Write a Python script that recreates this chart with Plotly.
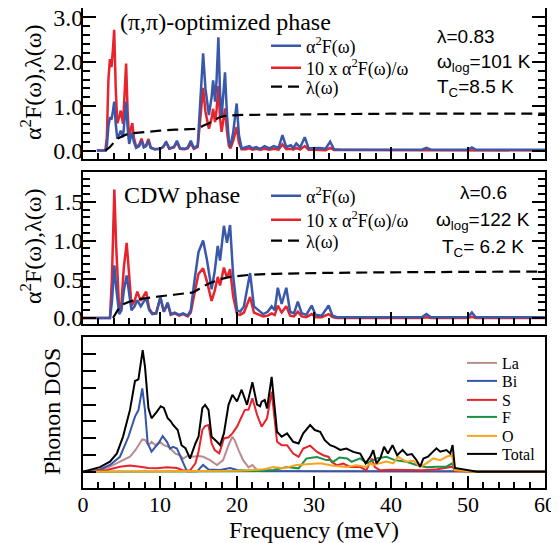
import plotly.graph_objects as go

# ---------------- Panel 1: (pi,pi)-optimized phase ----------------
opt_freq = [1.8, 2.9, 3.1, 3.3, 3.5, 3.7, 3.9, 4.05, 4.25, 4.45, 4.7, 4.9, 5.2, 5.4, 5.6, 5.8, 6.0, 6.2, 6.4, 6.6,
            6.9, 7.3, 7.6, 7.9, 8.2, 8.5, 8.8, 9.3, 10.0, 10.4, 10.8, 11.2, 11.8, 12.2, 12.6, 13.2, 13.6, 14.0, 14.4, 14.9,
            15.2, 15.6, 15.9, 16.1, 16.35, 16.7, 16.9, 17.15, 17.35, 17.58, 17.8, 18.0, 18.2, 18.44, 18.7, 18.95, 19.15, 19.5, 19.96, 20.25,
            20.6, 21.2, 21.6, 22.0, 22.5, 23.0, 23.6, 24.2, 24.8, 25.4, 25.9, 26.4, 27.0, 27.3, 27.7, 28.2, 28.8, 29.3, 30.0, 30.8,
            31.5, 32.1, 32.6, 33.5, 44.0, 44.6, 45.2, 50.0, 50.5, 51.0, 60.0]
opt_a2f = [0, 0, 0.1, 0.55, 0.75, 0.7, 0.9, 1.1, 0.6, 0.27, 0.35, 0.45, 0.3, 0.7, 1.1, 0.5, 0.15, 0.3, 0.4, 0.2,
           0.06, 0.1, 0.22, 0.07, 0.1, 0.22, 0.06, 0.03, 0.04, 0.08, 0.2, 0.05, 0.08, 0.22, 0.05, 0.04, 0.07, 0.22, 0.05, 0.12,
           1.0, 2.19, 1.4, 1.1, 0.8, 1.2, 1.58, 1.1, 1.6, 2.55, 1.3, 0.76, 1.2, 1.76, 0.8, 0.2, 0.1, 0.4, 1.06, 0.35,
           0.05, 0.07, 0.1, 0.05, 0.08, 0.04, 0.1, 0.05, 0.1, 0.06, 0.35, 0.08, 0.12, 0.06, 0.16, 0.07, 0.3, 0.05, 0.05, 0.06,
           0.04, 0.2, 0.03, 0.02, 0.02, 0.06, 0.02, 0.02, 0.07, 0.02, 0.02]
opt_a2f_w = [0, 0, 0.3, 1.6, 2.06, 1.88, 2.3, 2.72, 1.4, 0.61, 0.75, 0.9, 0.6, 1.3, 1.96, 0.85, 0.24, 0.48, 0.62, 0.3,
             0.09, 0.13, 0.27, 0.09, 0.12, 0.26, 0.07, 0.03, 0.04, 0.08, 0.18, 0.04, 0.07, 0.18, 0.04, 0.03, 0.05, 0.16, 0.04, 0.08,
             0.66, 1.41, 0.88, 0.68, 0.49, 0.72, 0.94, 0.64, 0.92, 1.45, 0.73, 0.42, 0.66, 0.95, 0.43, 0.1, 0.05, 0.21, 0.53, 0.17,
             0.03, 0.03, 0.05, 0.02, 0.04, 0.02, 0.04, 0.02, 0.04, 0.02, 0.14, 0.03, 0.04, 0.02, 0.06, 0.02, 0.1, 0.02, 0.02, 0.02,
             0.01, 0.06, 0.01, 0.01, 0.005, 0.015, 0.005, 0.004, 0.014, 0.004, 0.003]
opt_lam_freq = [2.9, 3.5, 4.0, 4.5, 5.0, 5.6, 6.5, 8.0, 10.0, 12.0, 14.5, 15.2, 15.6, 16.3, 16.9, 17.6, 18.4, 19.2, 20.0, 25.0, 30.0, 40.0, 60.0]
opt_lambda = [0, 0.08, 0.18, 0.27, 0.31, 0.36, 0.39, 0.42, 0.45, 0.47, 0.49, 0.52, 0.56, 0.61, 0.67, 0.74, 0.78, 0.79, 0.8, 0.81, 0.82, 0.83, 0.83]

# ---------------- Panel 2: CDW phase ----------------
cdw_freq = [0, 3.5, 3.75, 3.95, 4.07, 4.3, 4.7, 5.0, 5.3, 5.67, 6.0, 6.3, 6.7, 7.05, 7.5, 8.2, 8.6, 9.0, 9.5, 10.05,
            10.5, 11.0, 11.4, 11.9, 12.5, 13.0, 13.6, 14.0, 14.5, 15.0, 15.6, 16.1, 16.7, 17.1, 17.5, 17.8, 18.3, 18.7, 19.1, 19.5,
            20.0, 20.4, 20.9, 21.7, 22.2, 22.8, 23.4, 24.0, 24.5, 24.9, 25.3, 25.8, 26.4, 26.9, 27.4, 27.9, 28.4, 29.0, 29.7, 30.2,
            31.0, 31.9, 32.4, 33.0, 44.0, 44.6, 45.2, 50.0, 50.5, 51.0, 60.0]
cdw_a2f = [0, 0, 0.2, 0.6, 0.68, 0.4, 0.05, 0.1, 0.35, 0.55, 0.3, 0.1, 0.15, 0.23, 0.15, 0.26, 0.1, 0.05, 0.06, 0.27,
           0.08, 0.2, 0.05, 0.07, 0.04, 0.06, 0.03, 0.1, 0.5, 0.85, 1.0, 0.75, 0.37, 0.6, 0.93, 0.74, 1.19, 0.97, 1.2, 0.55,
           0.1, 0.08, 0.15, 0.58, 0.15, 0.1, 0.05, 0.08, 0.15, 0.1, 0.39, 0.18, 0.39, 0.08, 0.06, 0.21, 0.06, 0.04, 0.16, 0.04,
           0.03, 0.16, 0.03, 0.01, 0.01, 0.05, 0.01, 0.01, 0.07, 0.01, 0.01]
cdw_a2f_w = [0, 0, 0.5, 1.5, 1.66, 0.95, 0.1, 0.2, 0.65, 0.97, 0.5, 0.16, 0.22, 0.34, 0.22, 0.34, 0.12, 0.06, 0.06, 0.26,
             0.08, 0.18, 0.04, 0.06, 0.03, 0.05, 0.02, 0.07, 0.33, 0.57, 0.64, 0.47, 0.22, 0.35, 0.53, 0.42, 0.65, 0.52, 0.63, 0.28,
             0.05, 0.04, 0.07, 0.27, 0.07, 0.04, 0.02, 0.03, 0.06, 0.04, 0.16, 0.07, 0.15, 0.03, 0.02, 0.08, 0.02, 0.01, 0.05, 0.01,
             0.01, 0.05, 0.01, 0.0, 0.0, 0.01, 0.0, 0.0, 0.015, 0.0, 0.0]
cdw_lam_freq = [3.9, 4.2, 4.5, 5.3, 6.0, 7.0, 8.3, 10.0, 11.8, 14.3, 15.0, 15.6, 16.5, 17.8, 19.1, 20.0, 22.0, 25.0, 30.0, 40.0, 60.0]
cdw_lambda = [0, 0.05, 0.1, 0.18, 0.21, 0.24, 0.26, 0.28, 0.3, 0.33, 0.37, 0.41, 0.45, 0.5, 0.53, 0.54, 0.56, 0.57, 0.58, 0.59, 0.6]

# ---------------- Panel 3: Phonon DOS ----------------
tot_freq = [0, 0.9, 2.2, 3.5, 4.4, 5.2, 6.1, 6.75, 7.2, 7.75, 8.05, 8.5, 8.9, 9.6, 10.1, 10.5, 11.0, 11.4, 11.7, 12.3,
            12.8, 13.3, 13.9, 14.6, 15.0, 15.5, 15.85, 16.3, 16.7, 17.4, 17.8, 18.3, 18.9, 19.4, 20.0, 20.6, 21.3, 22.0, 22.6, 23.0,
            23.2, 23.6, 23.9, 24.5, 25.2, 25.8, 26.5, 27.3, 28.0, 28.6, 29.5, 30.1, 30.8, 31.4, 32.1, 32.7, 33.4, 34.2, 35.1, 36.0,
            36.7, 37.3, 37.7, 38.1, 38.6, 39.1, 39.6, 40.2, 40.8, 41.5, 42.1, 42.7, 43.3, 43.8, 44.2, 44.8, 45.9, 46.4, 47.2, 47.7,
            48.0, 48.3, 49.0, 50.0, 50.7, 51.2, 60.0]
tot_dos = [0, 0.1, 0.27, 0.6, 1.09, 2.09, 3.68, 5.4, 5.5, 7.24, 6.25, 3.78, 3.18, 3.58, 3.9, 3.8, 3.18, 3.0, 2.78, 2.48,
           1.58, 1.4, 0.78, 1.68, 2.08, 3.78, 3.98, 3.68, 2.08, 1.78, 1.58, 2.28, 3.98, 4.58, 4.18, 4.88, 3.98, 5.33, 4.0, 3.9,
           4.17, 4.27, 3.77, 5.65, 2.38, 2.08, 2.28, 1.78, 1.68, 2.28, 2.78, 2.48, 2.38, 1.88, 1.58, 1.48, 1.3, 1.38, 1.18, 1.08,
           0.5, 0.88, 1.28, 0.5, 0.78, 1.48, 1.08, 1.58, 0.98, 1.3, 1.0, 1.05, 0.7, 0.3, 0.79, 0.89, 1.39, 1.19, 1.29, 1.09,
           1.59, 0.22, 0.16, 0.1, 0.03, 0, 0]
la_freq = [0, 2.2, 3.5, 4.8, 6.1, 6.8, 7.7, 8.1, 8.5, 8.9, 9.4, 10.0, 10.5, 11.1, 12.0, 12.6, 13.0, 13.7, 14.3, 15.0,
           15.6, 16.5, 17.4, 18.2, 18.9, 19.4, 19.7, 20.2, 20.8, 21.5, 22.0, 22.6, 23.5, 30.0, 40.0, 48.0, 50.0, 60.0]
la_dos = [0, 0.1, 0.3, 0.6, 0.89, 1.28, 1.92, 1.88, 1.58, 1.78, 1.58, 1.78, 1.58, 1.48, 1.08, 0.98, 0.78, 0.98, 0.89, 0.93,
          0.89, 0.69, 0.4, 0.69, 1.58, 2.08, 1.88, 1.28, 0.69, 0.26, 0.4, 0.1, 0.05, 0.03, 0.02, 0.02, 0, 0]
bi_freq = [0, 0.9, 2.2, 3.5, 4.8, 5.9, 6.75, 7.2, 7.7, 8.05, 8.4, 8.9, 9.4, 9.8, 10.35, 10.9, 11.3, 11.7, 12.2, 12.8,
           13.2, 13.5, 14.8, 15.6, 16.3, 17.8, 19.1, 20.0, 21.3, 23.0, 60.0]
bi_dos = [0, 0.02, 0.13, 0.4, 0.89, 2.08, 3.28, 3.67, 4.96, 3.67, 1.69, 1.19, 1.48, 1.69, 2.12, 1.78, 1.38, 1.48, 1.38, 0.78,
          0.28, 0.02, 0.02, 0.4, 0.13, 0.1, 0.22, 0.1, 0.07, 0.03, 0.02]
s_freq = [0, 3.1, 4.8, 6.1, 7.4, 8.5, 9.6, 10.9, 12.2, 13.0, 13.9, 14.6, 15.0, 15.5, 15.85, 16.3, 16.7, 17.1, 17.7, 18.3,
          18.9, 19.4, 20.0, 20.6, 21.0, 21.5, 22.0, 22.6, 23.0, 23.2, 23.9, 24.5, 25.2, 25.8, 26.5, 27.3, 28.0, 28.6, 29.5, 30.4,
          31.2, 31.9, 32.3, 33.0, 33.8, 34.7, 36.0, 36.8, 37.5, 37.9, 38.6, 40.0, 42.0, 44.0, 46.0, 48.0, 48.3, 50.0, 51.0, 60.0]
s_dos = [0, 0.1, 0.3, 0.37, 0.3, 0.22, 0.2, 0.26, 0.22, 0.07, 0.07, 0.5, 1.19, 2.48, 2.72, 2.78, 1.69, 1.29, 1.09, 1.98,
         2.05, 2.28, 2.68, 3.3, 3.67, 3.7, 4.37, 3.4, 2.9, 2.68, 3.18, 4.76, 1.78, 1.58, 1.58, 1.08, 0.88, 1.38, 1.55, 1.18,
         0.98, 0.88, 0.58, 0.38, 0.48, 0.28, 0.28, 0.08, 0.78, 0.28, 0.08, 0.12, 0.1, 0.08, 0.15, 0.3, 0.05, 0.02, 0, 0]
f_freq = [0, 22.0, 24.7, 26.5, 28.0, 29.0, 29.9, 30.4, 31.6, 32.1, 32.5, 33.3, 34.3, 34.9, 36.0, 36.9, 38.1, 39.4, 40.5, 42.0,
          43.3, 44.6, 45.9, 47.2, 47.97, 48.3, 50.0, 50.7, 60.0]
f_dos = [0, 0.02, 0.1, 0.28, 0.2, 0.78, 0.85, 0.88, 0.69, 0.69, 0.59, 0.85, 0.79, 0.59, 0.79, 0.5, 0.79, 0.89, 0.69, 0.59,
         0.4, 0.26, 0.3, 0.3, 0.5, 0.1, 0.05, 0, 0]
o_freq = [0, 20.0, 22.0, 23.5, 24.7, 26.0, 27.7, 29.0, 30.8, 32.5, 34.2, 35.5, 36.8, 37.3, 37.7, 39.4, 40.3, 40.9, 42.0, 42.9,
          43.8, 44.6, 45.5, 46.4, 47.2, 47.9, 48.3, 50.0, 51.0, 60.0]
o_dos = [0, 0.05, 0.1, 0.15, 0.28, 0.2, 0.4, 0.45, 0.5, 0.35, 0.28, 0.38, 0.28, 0.5, 0.4, 0.6, 0.5, 0.89, 0.6, 0.65,
         0.3, 0.5, 0.79, 0.69, 0.89, 0.99, 0.1, 0.03, 0, 0]

# ---------------- text ----------------
panel_titles = ["(π,π)-optimized phase", "CDW phase"]
opt_params = ["λ=0.83", "ω<sub>log</sub>=101 K", "T<sub>C</sub>=8.5 K"]
cdw_params = ["λ=0.6", "ω<sub>log</sub>=122 K", "T<sub>C</sub>= 6.2 K"]
y_titles = ["α<sup>2</sup>F(ω),λ(ω)", "α<sup>2</sup>F(ω),λ(ω)", "Phonon DOS"]
x_title = "Frequency (meV)"
x_ticks = [0, 10, 20, 30, 40, 50, 60]

BLUE = "#3a58aa"
RED = "#e8232b"
SERIF = "Liberation Serif"
SANS = "Liberation Sans"

# The page has an 8px body margin; the figure is sized so the plot area lands
# at page pixels x 83..545, y 8..488.
OFF = 8
def px_x(p):
    return (p - 83) / 462.0

def px_y(p):
    return (488 - p) / 480.0

fig = go.Figure()
legends = {}

def add_line(x, y, name, color, width, dash, xa, ya, leg_id, lx, ly, size):
    fig.add_trace(go.Scatter(x=x, y=y, mode="lines", line=dict(color=color, width=width, dash=dash),
                             name=name, xaxis=xa, yaxis=ya, legend=leg_id))
    legends[leg_id] = dict(x=px_x(lx), y=px_y(ly), xanchor="left", yanchor="middle",
                           bgcolor="rgba(0,0,0,0)", borderwidth=0,
                           font=dict(family=SERIF, size=size, color="black"))

DASH = "11px,6px"
# panel 1
add_line(opt_freq, opt_a2f_w, "10 x α<sup>2</sup>F(ω)/ω", RED, 2.5, "solid", "x", "y", "legend2", 266, 68, 18)
add_line(opt_freq, opt_a2f, "α<sup>2</sup>F(ω)", BLUE, 2.5, "solid", "x", "y", "legend", 266, 46, 18)
add_line(opt_lam_freq, opt_lambda, "λ(ω)", "black", 2.2, DASH, "x", "y", "legend3", 266, 87, 18)
# panel 2
add_line(cdw_freq, cdw_a2f_w, "10 x α<sup>2</sup>F(ω)/ω", RED, 2.5, "solid", "x2", "y2", "legend5", 266, 220, 18)
add_line(cdw_freq, cdw_a2f, "α<sup>2</sup>F(ω)", BLUE, 2.5, "solid", "x2", "y2", "legend4", 266, 196, 18)
add_line(cdw_lam_freq, cdw_lambda, "λ(ω)", "black", 2.2, DASH, "x2", "y2", "legend6", 266, 241, 18)
# panel 3
dos_series = [(la_freq, la_dos, "La", "#bc8a8c", 363), (bi_freq, bi_dos, "Bi", "#3456ab", 381),
              (s_freq, s_dos, "S", "#e8232b", 400), (f_freq, f_dos, "F", "#1b8f45", 417),
              (o_freq, o_dos, "O", "#f7a51e", 436), (tot_freq, tot_dos, "Total", "black", 454)]
for i, (fx, fy, nm, col, ly) in enumerate(dos_series):
    add_line(fx, fy, nm, col, 2, "solid", "x3", "y3", "legend%d" % (7 + i), 462, ly, 16)

def xax(anchor, labels):
    return dict(range=[0, 60], showline=True, linecolor="black", linewidth=2, mirror=True,
                ticks="inside", ticklen=12, tickwidth=1.5, tickcolor="black", tickvals=x_ticks,
                showgrid=False, zeroline=False, showticklabels=labels, anchor=anchor, automargin=False,
                ticklabelstandoff=-4,
                tickfont=dict(family=SERIF, size=22, color="black"),
                minor=dict(dtick=2, tick0=0, ticks="inside", ticklen=6, tickwidth=1.5, tickcolor="black", showgrid=False))

def yax(domain, rng, dtick, minor_dtick, mirror, labels, fmt, anchor):
    d = dict(domain=domain, range=rng, showline=True, linecolor="black", linewidth=2, mirror=mirror,
             ticks="inside", ticklen=13, tickwidth=1.5, tickcolor="black", dtick=dtick, tick0=0,
             showgrid=False, zeroline=False, showticklabels=labels, tickformat=fmt, automargin=False,
             anchor=anchor, ticklabelstandoff=-7, ticklabeloverflow="allow",
             tickfont=dict(family=SERIF, size=24, color="black"))
    if minor_dtick:
        d["minor"] = dict(dtick=minor_dtick, tick0=0, ticks="inside", ticklen=7, tickwidth=1.5,
                          tickcolor="black", showgrid=False)
    return d

layout = dict(
    width=559 - OFF, height=543 - OFF,
    margin=dict(l=83 - OFF, r=14, t=0, b=55),
    plot_bgcolor="white", paper_bgcolor="white",
    showlegend=True,
    xaxis=xax("y", False),
    xaxis2=xax("y2", False),
    xaxis3=xax("y3", True),
    yaxis=yax([px_y(159), 1.0], [-0.19, 3.21], 1.0, 0.2, "ticks", True, ".1f", "x"),
    yaxis2=yax([px_y(324), px_y(172)], [-0.078, 1.885], 0.5, 0.1, "ticks", True, ".1f", "x2"),
    yaxis3=yax([0.0, px_y(337)], [-0.97, 8.02], 1, None, True, False, "", "x3"),
)
layout.update(legends)
fig.update_layout(**layout)
fig.layout.xaxis3.title = dict(text=x_title, font=dict(family=SERIF, size=24, color="black"), standoff=6)

ann = []
for t, xp, yp in zip(y_titles, [31, 31, 52], [82, 246, 412]):
    ann.append(dict(text=t, x=px_x(xp), y=px_y(yp), xref="paper", yref="paper", showarrow=False,
                    textangle=-90, font=dict(family=SERIF, size=24, color="black"),
                    xanchor="center", yanchor="middle"))
ann.append(dict(text=panel_titles[0], x=px_x(225), y=px_y(22), xref="paper", yref="paper", showarrow=False,
                font=dict(family=SERIF, size=24, color="black"), xanchor="center", yanchor="middle"))
ann.append(dict(text=panel_titles[1], x=px_x(182), y=px_y(195), xref="paper", yref="paper", showarrow=False,
                font=dict(family=SERIF, size=24, color="black"), xanchor="center", yanchor="middle"))
for t, py in zip(opt_params, [36, 63, 88]):
    ann.append(dict(text=t, x=px_x(435), y=px_y(py), xref="paper", yref="paper", showarrow=False,
                    font=dict(family=SANS, size=19, color="black"), xanchor="left", yanchor="middle"))
for t, py in zip(cdw_params, [192, 221, 248]):
    ann.append(dict(text=t, x=px_x(483), y=px_y(py), xref="paper", yref="paper", showarrow=False,
                    font=dict(family=SANS, size=19, color="black"), xanchor="center", yanchor="middle"))
fig.update_layout(annotations=ann)

fig.write_html("out.html")
